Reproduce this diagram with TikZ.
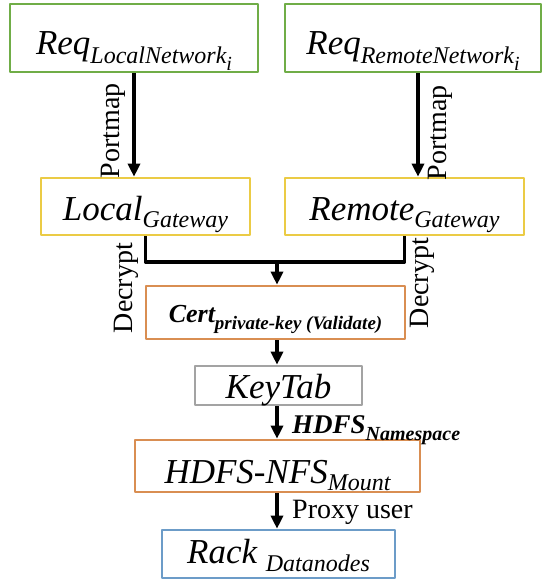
\documentclass[tikz,border=0pt]{standalone}
\usepackage{fontspec}
\setmainfont{Liberation Serif}
\usetikzlibrary{arrows.meta}
\definecolor{reqgreen}{HTML}{70AD47}
\definecolor{gwyellow}{HTML}{EBCB45}
\definecolor{certorange}{HTML}{D98E52}
\definecolor{tabgray}{HTML}{A3A3A3}
\definecolor{rackblue}{HTML}{6C9CC8}
% lowered subscript: size, drop, text
\newcommand{\lowsub}[3]{\raisebox{-#2pt}{\fontsize{#1}{#1}\selectfont #3}}
\tikzset{
  box/.style={draw,line width=2.6pt,inner sep=0pt,align=center},
  lbl/.style={inner sep=0pt,font=\fontsize{28}{28}\selectfont},
  flow/.style={line width=3.2pt,-{Triangle[length=13pt,width=12pt]}},
}
\begin{document}
\begin{tikzpicture}[x=1pt,y=-1pt,line join=round]
  \useasboundingbox (0,0) rectangle (543,583);
  % top row
  \node[box,draw=reqgreen,minimum width=248,minimum height=68,text height=40pt,text depth=6pt] (reqL) at (134,38)
    {\fontsize{35}{40}\selectfont\itshape Req\lowsub{24}{9}{LocalNetwork\lowsub{20}{7}{i}}};
  \node[box,draw=reqgreen,minimum width=256,minimum height=68,text height=40pt,text depth=6pt] (reqR) at (413,38)
    {\fontsize{35}{40}\selectfont\itshape Req\lowsub{24}{9}{RemoteNetwork\lowsub{20}{7}{i}}};
  % gateways
  \node[box,draw=gwyellow,minimum width=209,minimum height=57,text height=30pt,text depth=3pt] (locGw) at (145.5,206.5)
    {\fontsize{35}{40}\selectfont\itshape Local\lowsub{24}{7}{Gateway}};
  \node[box,draw=gwyellow,minimum width=239,minimum height=57,text height=30pt,text depth=3pt] (remGw) at (404.5,206.5)
    {\fontsize{35}{40}\selectfont\itshape Remote\lowsub{24}{7}{Gateway}};
  % chain
  \node[box,draw=certorange,minimum width=259,minimum height=53,text height=22pt,text depth=3pt] (cert) at (275.5,312.5)
    {\fontsize{26}{30}\selectfont\bfseries\itshape Cert\lowsub{19}{7}{private-key (Validate)}};
  \node[box,draw=tabgray,minimum width=167,minimum height=39,text height=28pt,text depth=3pt] (keytab) at (278.5,385.5)
    {\fontsize{35}{40}\selectfont\itshape KeyTab};
  \node[box,draw=certorange,minimum width=285,minimum height=52,text height=36pt,text depth=2pt] (hdfs) at (277.5,466)
    {\fontsize{35}{40}\selectfont\itshape HDFS-NFS\lowsub{24}{7}{Mount}};
  \node[box,draw=rackblue,minimum width=233,minimum height=48,text height=24pt,text depth=6pt] (rack) at (278.5,554)
    {\fontsize{35}{40}\selectfont\itshape Rack \lowsub{24}{8}{Datanodes}};
  % connectors
  \coordinate (join) at (277,262);
  \draw[flow] (reqL.south) -- (reqL.south |- locGw.north);
  \draw[flow] ([xshift=5pt]reqR.south) -- ([xshift=5pt]reqR.south |- remGw.north);
  \draw[line width=3.2pt] (locGw.south) |- (join) -| (remGw.south);
  \draw[flow] (join) -- (join |- cert.north);
  \draw[flow] (join |- cert.south) -- (join |- keytab.north);
  \draw[flow] (join |- keytab.south) -- (join |- hdfs.north);
  \draw[flow] (join |- hdfs.south) -- (join |- rack.north);
  % labels
  \node[lbl,rotate=90] (pmL) at (113,131) {Portmap};
  \node[lbl,rotate=90] (pmR) at (440,133) {Portmap};
  \node[lbl,rotate=90] (dcL) at (126,288) {Decrypt};
  \node[lbl,rotate=90] (dcR) at (422,283) {Decrypt};
  \node[lbl,anchor=base west] (ns) at (292,433)
    {\fontsize{27}{30}\selectfont\bfseries\itshape HDFS\lowsub{20}{7}{Namespace}};
  \node[lbl,anchor=base west] (proxy) at (292,518) {Proxy user};
\end{tikzpicture}
\end{document}
